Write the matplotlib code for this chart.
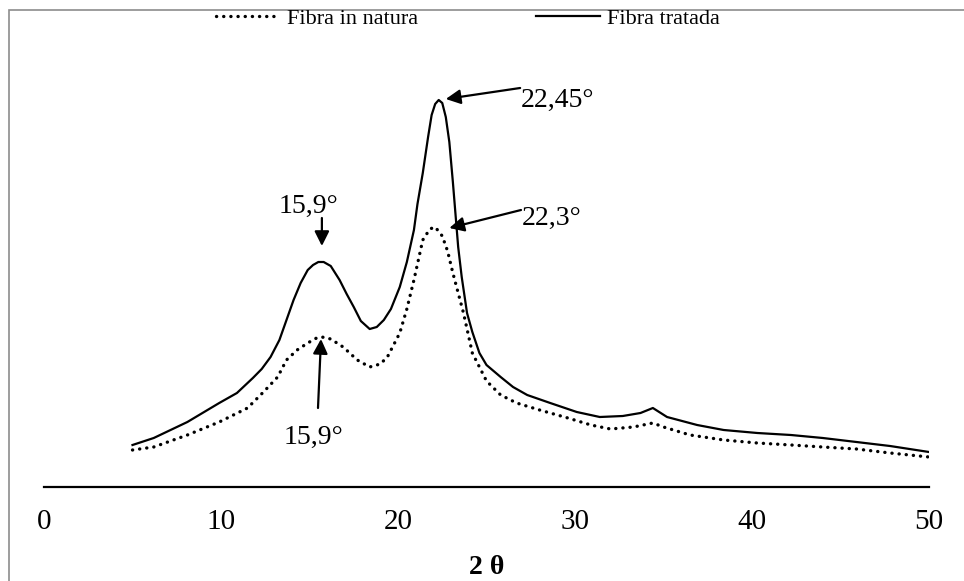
import matplotlib.pyplot as plt
from matplotlib.patches import Rectangle

plt.rcParams["font.family"] = ["Liberation Serif", "DejaVu Serif"]

theta_tratada = [5.0, 6.2, 8.1, 9.9, 10.9, 11.8, 12.3, 12.8, 13.3, 13.7, 14.1,
                 14.5, 14.9, 15.2, 15.5, 15.8, 16.2, 16.7, 17.1, 17.5, 17.9,
                 18.4, 18.8, 19.2, 19.6, 20.1, 20.5, 20.9, 21.1, 21.4, 21.7,
                 21.9, 22.1, 22.3, 22.5, 22.7, 22.9, 23.1, 23.4, 23.6, 23.9,
                 24.2, 24.6, 25.0, 25.8, 26.5, 27.3, 28.6, 30.1, 31.4, 32.7,
                 33.7, 34.4, 35.2, 36.9, 38.4, 40.3, 42.2, 44.0, 45.9, 47.8,
                 50.0]
int_tratada = [42, 49, 65, 84, 94, 109, 118, 130, 147, 167, 187,
               204, 217, 222, 225, 225, 221, 207, 193, 180, 166,
               158, 160, 167, 178, 200, 225, 257, 283, 314, 350,
               372, 383, 387, 384, 370, 345, 305, 240, 210, 174,
               155, 134, 122, 110, 100, 92, 84, 75, 70, 71,
               74, 79, 70, 62, 57, 54, 52, 49, 45, 41,
               35]

theta_natura = [5.0, 6.2, 8.1, 9.9, 11.5, 12.4, 13.2, 13.7, 14.3, 14.9, 15.4,
                15.7, 16.2, 16.9, 17.7, 18.4, 19.0, 19.4, 20.1, 20.5, 20.9,
                21.4, 21.8, 22.1, 22.5, 22.8, 23.1, 23.7, 24.2, 25.0, 25.8,
                26.7, 28.0, 29.6, 30.9, 32.0, 33.3, 34.4, 35.0, 36.5, 38.4,
                40.3, 42.2, 44.0, 45.9, 47.8, 50.0]
int_natura = [37, 40, 52, 65, 79, 95, 110, 127, 137, 144, 149,
              150, 148, 140, 127, 120, 123, 130, 154, 178, 207,
              247, 258, 260, 251, 236, 214, 174, 134, 106, 92,
              84, 77, 69, 62, 58, 60, 64, 60, 52, 47,
              44, 42, 40, 38, 34, 30]

xticks = [0, 10, 20, 30, 40, 50]

fig = plt.figure(figsize=(9.64, 5.81), dpi=100)
ax = fig.add_axes([44 / 964, 94 / 581, 885 / 964, 447 / 581])

ax.plot(theta_natura, int_natura, color="black", lw=2.4,
        linestyle=(0, (0.05, 2.1)), dash_capstyle="round",
        label="Fibra in natura")
ax.plot(theta_tratada, int_tratada, color="black", lw=1.6,
        label="Fibra tratada")

ax.set_xlim(0, 50)
ax.set_ylim(0, 447)
ax.set_xticks(xticks)
ax.set_yticks([])
for s in ("left", "top", "right"):
    ax.spines[s].set_visible(False)
ax.spines["bottom"].set_linewidth(1.6)
ax.tick_params(axis="x", length=0, pad=16, labelsize=21)
ax.set_xlabel("2 θ", fontsize=20, fontweight="bold", labelpad=14)

# picos
arrow = dict(arrowstyle="-|>", color="black", lw=1.6, mutation_scale=22,
             shrinkA=0, shrinkB=0)
ax.annotate("", xy=(22.7, 388), xytext=(26.9, 399), arrowprops=arrow)
ax.text(26.95, 387, "22,45°", fontsize=20, va="center", ha="left")
ax.annotate("", xy=(22.9, 259), xytext=(26.95, 277), arrowprops=arrow)
ax.text(27.0, 269, "22,3°", fontsize=20, va="center", ha="left")
ax.annotate("", xy=(15.7, 241), xytext=(15.7, 269), arrowprops=arrow)
ax.text(14.95, 281, "15,9°", fontsize=20, va="center", ha="center")
ax.annotate("", xy=(15.65, 148), xytext=(15.48, 79), arrowprops=arrow)
ax.text(15.2, 50, "15,9°", fontsize=20, va="center", ha="center")

fig.legend(loc="center", bbox_to_anchor=(0.485, 0.968), ncol=2,
           frameon=False, fontsize=16, handlelength=2.9,
           handletextpad=0.3, columnspacing=5.3)

fig.patches.append(Rectangle((9 / 964, -0.1), 1.2, 1 - 10 / 581 + 0.1,
                             transform=fig.transFigure, fill=False,
                             edgecolor="#8c8c8c", lw=1.2))

fig.savefig("out.png", dpi=100)
